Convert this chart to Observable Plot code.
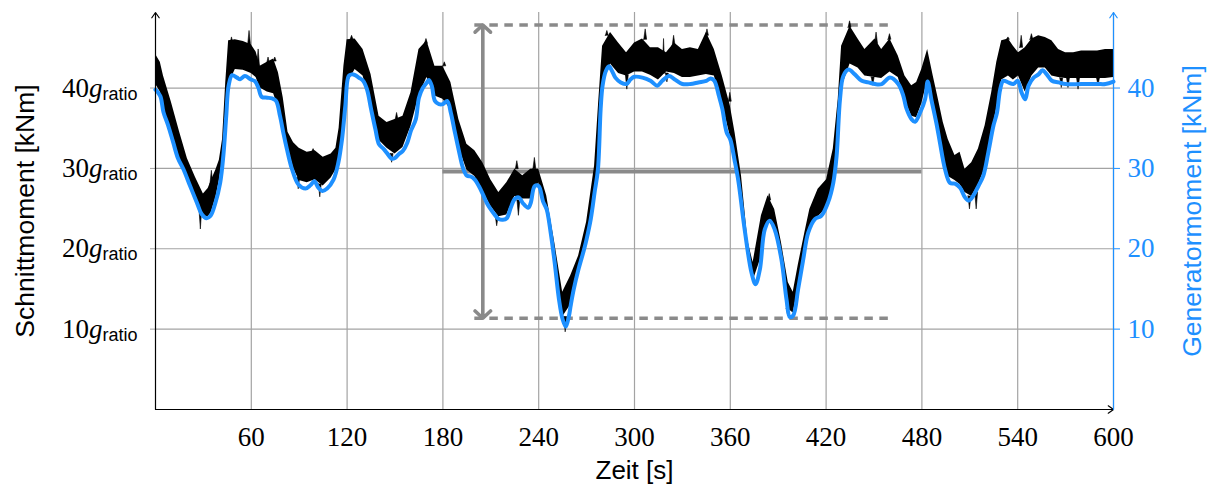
<!DOCTYPE html>
<html>
<head>
<meta charset="utf-8">
<script src="https://cdn.jsdelivr.net/npm/d3@7"></script>
<script src="https://cdn.jsdelivr.net/npm/@observablehq/plot@0.6"></script>
<style>
  html, body { margin: 0; padding: 0; background: #fff; }
</style>
</head>
<body>
<div id="chart"></div>
<script>
// Axis ticks
const xTicks = [60, 120, 180, 240, 300, 360, 420, 480, 540, 600];
const yTicks = [10, 20, 30, 40];
const yMax = 49.4;

// Generator torque (smooth signal), time in s, value in kNm
const genTime = [0, 3, 5, 8, 11, 14, 17.5, 21.5, 26, 29, 32, 34.5, 37.5, 40.5, 42.5, 44.3, 45.8, 48, 51, 53, 56, 59.5, 62.5, 64.5, 66.5, 70, 73, 75.5, 78, 80.3, 82.3, 85.5, 89.5, 94, 97, 99.5, 102, 104.5, 107.5, 111.5, 114.5, 116.8, 118.9, 121, 123, 125, 127.3, 130, 132.5, 135, 137.7, 140, 143, 145, 148, 150, 152.5, 155, 157.7, 160, 163, 165, 167.4, 170, 171.2, 173, 175, 177.5, 180, 182.7, 185, 187.5, 190, 192.5, 195, 197.5, 200, 202.5, 205, 207.5, 210, 213, 215, 217.5, 220, 222.5, 225, 227.5, 230, 233.4, 235, 237.5, 240, 242.7, 245, 247.5, 250, 252.7, 255, 257, 259, 260, 262, 265, 268.4, 270, 272.6, 275, 277.1, 278.8, 280, 282, 284, 286, 288, 291.4, 295, 297.6, 300, 305, 310, 314.2, 317.4, 321.6, 325, 330, 335, 340, 345, 347.7, 350, 352.9, 355, 357.7, 360, 362.6, 365, 369, 373.3, 375.8, 378.5, 381.6, 384.7, 387.8, 392, 395.2, 397.3, 399.4, 402.5, 405.7, 408.8, 413, 417, 421.3, 424.5, 426.6, 428.7, 430.8, 434, 438, 442.3, 446.5, 450.6, 454.8, 460, 465.2, 468.4, 470.4, 473.6, 475.7, 478.8, 482, 483.6, 486.1, 489.4, 491.3, 494.5, 497.6, 500.7, 503.9, 507, 509.5, 512.2, 515.4, 518.5, 521.6, 524.8, 527, 529, 531, 534, 537.3, 540, 542.5, 544.7, 546.8, 550, 553, 555.5, 558.2, 561.4, 565.6, 570, 580, 590, 595, 600];
const genValue = [39.8, 39.0, 37.0, 35.3, 33.3, 31.3, 29.9, 27.9, 25.7, 24.3, 23.8, 24.1, 25.7, 28.2, 31.6, 36.5, 40.3, 41.6, 41.3, 41.1, 41.5, 41.1, 40.8, 40.0, 38.9, 38.8, 38.7, 38.4, 36.5, 34.2, 32.4, 29.9, 28.0, 27.5, 27.9, 28.4, 27.6, 27.2, 27.5, 28.6, 30.7, 33.6, 37.8, 41.5, 41.7, 41.6, 41.3, 40.9, 39.8, 37.4, 34.9, 33.0, 32.4, 31.9, 31.2, 31.3, 31.8, 32.2, 33.2, 34.7, 36.1, 38.8, 40.0, 40.7, 41.0, 40.3, 38.4, 38.0, 38.0, 38.4, 36.9, 34.5, 32.2, 30.1, 29.1, 29.0, 28.6, 27.8, 26.8, 25.7, 24.9, 24.1, 23.7, 23.6, 23.8, 25.1, 26.2, 26.4, 25.7, 25.1, 25.7, 27.8, 27.8, 25.9, 24.9, 22.0, 18.3, 13.7, 11.2, 10.3, 11.7, 12.9, 15.0, 17.5, 19.9, 21.2, 23.7, 27.0, 29.9, 37.4, 40.3, 42.1, 42.7, 42.1, 41.3, 40.7, 40.5, 41.1, 41.4, 41.3, 40.9, 40.3, 40.9, 41.5, 41.1, 40.5, 40.5, 40.7, 40.9, 41.2, 40.9, 39.0, 37.4, 34.5, 33.6, 31.1, 28.5, 22.4, 17.0, 15.6, 17.4, 22.4, 23.5, 22.4, 18.7, 13.7, 11.5, 11.7, 15.0, 18.7, 22.0, 23.7, 24.1, 25.8, 28.2, 31.6, 38.6, 41.5, 42.3, 41.7, 40.9, 40.7, 40.5, 40.5, 41.3, 40.5, 39.0, 37.4, 36.1, 35.8, 36.9, 38.6, 40.8, 38.4, 35.3, 33.2, 29.9, 28.2, 28.1, 27.6, 26.4, 26.0, 26.6, 27.8, 29.1, 32.0, 35.3, 36.9, 39.8, 40.9, 40.7, 40.5, 40.9, 39.4, 38.6, 40.3, 41.3, 41.7, 42.2, 41.7, 40.9, 40.7, 40.5, 40.5, 40.5, 40.5, 40.8];

// Shaft torque (noisy signal), drawn as the band between its lower and upper envelope
const bandTime = [0, 3, 5, 10, 15, 20, 25, 30, 33, 35, 38, 40, 42, 44, 45.8, 50, 55, 60, 63, 65.5, 70, 74, 77, 80, 83, 86.5, 90, 95, 100, 105, 110, 113, 115, 118, 120, 125, 130, 135, 140, 145, 150, 155, 160, 165, 170, 175, 180, 185, 190, 195, 200, 205, 210, 215, 220, 225, 230, 235, 240, 245, 250, 255, 260, 265, 270, 275, 277.5, 280, 285, 290, 295, 300, 305, 310, 315, 320, 325, 330, 335, 340, 345, 350, 355, 360, 363, 367, 371, 374.3, 379.5, 383.6, 387.8, 392, 396.3, 399.4, 402.5, 406.7, 409.8, 415, 420.3, 424.5, 427.6, 429.7, 435, 440, 444.3, 450.6, 454.8, 460, 465.2, 469.4, 473.6, 476.7, 479.9, 483.6, 487.1, 490.3, 493.4, 496.5, 500.7, 503.9, 507, 511.2, 515.4, 519.6, 523.7, 526.9, 530, 534.2, 537.3, 540.5, 544.7, 548.9, 553.1, 557.3, 561.4, 565.6, 570, 575, 580, 585, 590, 595, 600];
const bandHigh = [44.2, 43.2, 41.5, 38.2, 34.6, 31.2, 28.9, 26.8, 27.5, 28.5, 29.9, 31.0, 33.6, 40.7, 45.9, 46.0, 45.8, 45.4, 44.5, 42.7, 43.2, 43.6, 41.9, 38.8, 34.5, 33.2, 32.5, 32.0, 32.2, 31.4, 31.8, 32.5, 35.0, 42.7, 46.0, 46.1, 44.8, 41.7, 36.5, 35.7, 36.1, 36.5, 39.4, 44.8, 45.9, 42.7, 42.7, 40.7, 36.1, 33.0, 32.2, 30.7, 28.6, 27.0, 28.2, 29.9, 29.1, 29.9, 29.9, 26.6, 20.8, 14.6, 16.6, 19.1, 23.3, 30.3, 38.0, 45.2, 46.9, 45.6, 44.4, 45.6, 46.1, 45.0, 45.0, 44.4, 45.6, 44.8, 45.0, 44.8, 46.9, 44.8, 41.5, 37.8, 34.4, 29.1, 21.0, 18.3, 24.1, 26.6, 24.9, 20.8, 15.8, 14.6, 17.9, 22.0, 24.9, 27.4, 28.6, 32.4, 38.6, 45.2, 47.7, 46.1, 44.8, 46.1, 44.8, 46.1, 44.0, 41.5, 40.3, 40.7, 42.3, 44.8, 41.5, 38.6, 35.7, 33.6, 31.6, 32.0, 29.9, 30.7, 32.4, 35.3, 39.4, 43.2, 45.9, 46.1, 45.2, 44.4, 45.0, 46.1, 46.5, 46.3, 45.9, 44.8, 44.4, 44.4, 44.6, 44.6, 44.6, 44.8, 44.8];
const bandLow = [40.5, 39.5, 37.5, 34.5, 31.2, 29.0, 26.5, 24.0, 24.0, 24.5, 26.5, 28.5, 31.0, 36.5, 40.5, 42.3, 42.2, 41.8, 41.3, 40.0, 39.5, 39.3, 37.5, 35.0, 32.5, 30.0, 28.5, 28.2, 28.6, 27.8, 28.8, 29.8, 31.0, 36.0, 40.5, 42.3, 41.5, 38.0, 33.5, 32.5, 31.8, 32.6, 35.2, 39.0, 41.3, 39.0, 38.6, 37.3, 32.6, 29.8, 29.0, 27.2, 25.3, 24.0, 24.2, 26.5, 26.2, 26.2, 28.2, 24.5, 18.5, 11.5, 13.0, 17.5, 21.0, 26.5, 30.0, 40.5, 43.0, 41.8, 41.5, 42.0, 42.0, 41.6, 41.0, 42.0, 41.8, 41.3, 41.3, 41.5, 41.7, 41.5, 38.0, 34.0, 31.5, 26.5, 19.5, 16.0, 19.0, 23.5, 22.5, 18.5, 12.5, 12.0, 15.0, 19.5, 22.5, 24.0, 25.0, 28.0, 34.0, 40.0, 43.0, 42.5, 41.5, 41.3, 41.2, 42.0, 41.3, 38.5, 36.5, 36.3, 38.0, 41.0, 38.5, 34.5, 31.5, 29.0, 28.5, 28.0, 27.0, 26.5, 28.0, 30.0, 34.5, 37.5, 41.0, 41.5, 41.0, 41.5, 39.5, 41.5, 42.5, 42.5, 41.5, 41.3, 41.2, 41.2, 41.2, 41.2, 41.2, 41.2, 41.3];

// Isolated peaks of the shaft torque beyond its envelope: time, band edge, peak value
const spikeTime = [28.4, 35.3, 47.9, 58.9, 64.6, 70.8, 75, 89.7, 99, 103.2, 123.1, 148.2, 151.3, 169.7, 181.2, 214, 226.6, 227.6, 237.6, 256.9, 283, 295.5, 307, 318.5, 320.6, 324.8, 345.7, 360, 384.7, 396.3, 435, 449.5, 451.6, 460, 510.1, 514.3, 534.2, 542.5, 548.9, 567.6, 571.8, 578.1, 590.6];
const spikeBase = [25.0, 28.0, 45.5, 45.3, 42.5, 43.0, 43.3, 28.8, 32.0, 28.0, 46.0, 31.8, 36.0, 45.5, 42.7, 24.0, 29.9, 26.0, 29.9, 11.5, 46.5, 41.6, 46.0, 41.8, 41.8, 45.2, 46.5, 38.3, 26.0, 12.5, 47.5, 41.3, 45.5, 46.0, 26.5, 27.0, 46.0, 45.0, 46.0, 41.2, 41.2, 41.2, 41.2];
const spikeTip = [22.4, 29.7, 46.3, 47.1, 44.8, 43.8, 43.8, 27.4, 32.4, 26.4, 46.5, 30.7, 36.9, 46.1, 43.2, 22.8, 30.9, 24.1, 31.3, 9.6, 47.1, 39.8, 47.3, 46.1, 40.7, 46.5, 47.3, 39.4, 26.8, 11.6, 48.3, 40.3, 46.9, 46.7, 24.9, 24.9, 46.3, 46.5, 46.7, 40.0, 40.0, 39.8, 40.3];

// Annotations: mean level and the spread between the extremes
const meanLevel = 29.6, meanFrom = 180, meanTo = 480;
const spreadMax = 47.85, spreadMin = 11.36, spreadFrom = 200, spreadTo = 460, spreadAt = 205;

const blue = "#1e90ff";
const gray = "#8a8a8a";
const gridGray = "#a3a3a3";
const labelInk = "#010101";

const gen = genTime.map((t, i) => ({t, v: genValue[i]}));
const band = bandTime.map((t, i) => ({t, lo: bandLow[i], hi: bandHigh[i]}));
// each peak is a narrow needle: edge, tip, edge
const needleHalfWidth = 0.9;
const needles = spikeTime.flatMap((t, i) => [
  {id: i, t: t - needleHalfWidth, a: spikeBase[i], b: spikeBase[i]},
  {id: i, t, a: spikeBase[i], b: spikeTip[i]},
  {id: i, t: t + needleHalfWidth, a: spikeBase[i], b: spikeBase[i]}
]);

const serif = "'Liberation Serif', 'DejaVu Serif', serif";
const sans = "'Liberation Sans', Arial, sans-serif";

const chart = Plot.plot({
  width: 1212,
  height: 488,
  marginLeft: 155,
  marginRight: 99,
  marginTop: 12,
  marginBottom: 79,
  x: {domain: [0, 600], axis: null},
  y: {domain: [0, yMax], axis: null},
  style: {background: "#fff"},
  marks: [
    // grid
    Plot.ruleX(xTicks, {x: d => d, y1: 0, y2: yMax, stroke: gridGray, strokeWidth: 1.2}),
    Plot.ruleY(yTicks, {y: d => d, x1: 0, x2: 600, stroke: gridGray, strokeWidth: 1.2}),
    Plot.axisY(yTicks, {anchor: "left", tickSize: 5, tickFormat: () => "", stroke: gridGray, label: null}),
    Plot.axisY(yTicks, {anchor: "right", tickSize: 6, tickFormat: () => "", stroke: blue, label: null}),

    // annotations
    Plot.ruleY([meanLevel], {x1: meanFrom, x2: meanTo, stroke: gray, strokeWidth: 4}),
    Plot.ruleY([spreadMax, spreadMin], {x1: spreadFrom, x2: spreadTo, stroke: gray, strokeWidth: 3.6, strokeDasharray: "8.5,6.5"}),
    Plot.arrow([spreadMax, spreadMin], {x1: spreadAt, x2: spreadAt, y1: meanLevel, y2: d => d, stroke: gray, strokeWidth: 3.6, headLength: 4.4, headAngle: 94}),

    // shaft torque band and its peaks
    Plot.areaY(band, {x: "t", y1: "lo", y2: "hi", fill: "#000"}),
    Plot.areaY(needles, {x: "t", y1: "a", y2: "b", z: "id", fill: "#000", stroke: "#000", strokeWidth: 0.6}),

    // generator torque
    Plot.line(gen, {x: "t", y: "v", stroke: blue, strokeWidth: 4, curve: "catmull-rom"}),

    // axis lines with arrow heads
    Plot.arrow([{x1: 0, y1: 0, x2: 0, y2: yMax}, {x1: 0, y1: 0, x2: 600, y2: 0}], {x1: "x1", y1: "y1", x2: "x2", y2: "y2", stroke: "#000", strokeWidth: 1.2, headLength: 8, headAngle: 70}),
    Plot.arrow([{x1: 600, y1: 0, x2: 600, y2: yMax}], {x1: "x1", y1: "y1", x2: "x2", y2: "y2", stroke: blue, strokeWidth: 1.2, headLength: 8, headAngle: 70}),

    // tick labels
    Plot.text(xTicks, {x: d => d, y: 0, text: d => String(d), dy: 36, lineAnchor: "bottom", textAnchor: "middle", fontFamily: serif, fontSize: 27, fill: "#000"}),
    Plot.text(yTicks, {x: 0, y: d => d, text: d => String(d), dx: -18, lineAnchor: "middle", textAnchor: "end", fontFamily: serif, fontSize: 27, fill: labelInk}),
    Plot.text(yTicks, {x: 600, y: d => d, text: d => String(d), dx: 14, lineAnchor: "middle", textAnchor: "start", fontFamily: serif, fontSize: 27, fill: blue}),

    // axis titles
    Plot.text(["Zeit [s]"], {frameAnchor: "bottom", dy: 69, lineAnchor: "bottom", textAnchor: "middle", fontFamily: sans, fontSize: 26, fill: "#000"}),
    Plot.text(["Schnittmoment [kNm]"], {frameAnchor: "left", dx: -121.5, rotate: -90, lineAnchor: "bottom", textAnchor: "middle", fontFamily: sans, fontSize: 26.5, fill: "#000"}),
    Plot.text(["Generatormoment [kNm]"], {frameAnchor: "right", dx: 87, rotate: -90, lineAnchor: "bottom", textAnchor: "middle", fontFamily: sans, fontSize: 26.5, fill: blue})
  ]
});

// left labels read "40 g_ratio": append the italic g and the sans-serif subscript
d3.select(chart).selectAll(`g[fill="${labelInk}"] text`).each(function () {
  const t = d3.select(this);
  t.append("tspan").attr("font-family", serif).attr("font-style", "italic").text("g");
  t.append("tspan").attr("font-family", sans).attr("font-size", 18).attr("dy", 3).text("ratio");
});

document.getElementById("chart").appendChild(chart);
</script>
</body>
</html>
